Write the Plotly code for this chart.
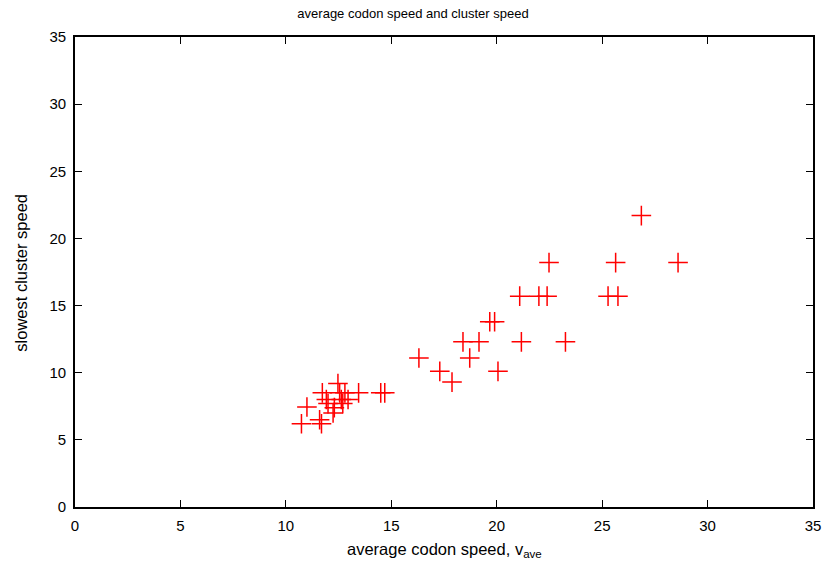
import plotly.graph_objects as go

# average codon speed (x) and slowest cluster speed (y)
v_ave = [10.74, 11.0, 11.6, 11.69, 11.73, 11.92, 12.0, 12.24, 12.3, 12.47, 12.55, 12.63, 12.7, 12.8, 12.95, 13.45,
         14.5, 14.69, 16.31, 17.3, 17.88, 18.4, 18.72, 19.16, 19.67, 19.9, 20.06, 21.09, 21.17, 22.0, 22.39, 22.48,
         23.26, 25.28, 25.64, 25.75, 26.86, 28.6]
slowest = [6.2, 7.45, 6.5, 6.2, 8.5, 8.0, 7.7, 7.0, 7.4, 9.2, 8.5, 8.0, 7.7, 8.5, 8.0, 8.5,
           8.5, 8.5, 11.1, 10.1, 9.3, 12.3, 11.1, 12.3, 13.8, 13.8, 10.1, 15.7, 12.3, 15.7, 15.7, 18.2,
           12.3, 15.7, 18.2, 15.7, 21.7, 18.2]

x_ticks = [0, 5, 10, 15, 20, 25, 30, 35]
y_ticks = [0, 5, 10, 15, 20, 25, 30, 35]

FAM = "Liberation Sans, Arial, sans-serif"
tick_font = dict(family=FAM, size=15, color="black")

L, R, T, B = 75, 13, 37, 58
W, H = 826, 565
pw = W - L - R

fig = go.Figure()
fig.add_trace(go.Scatter(
    x=v_ave, y=slowest, mode="markers",
    marker=dict(symbol="cross-thin-open", size=14, line=dict(color="red", width=1.5), color="red"),
    showlegend=False,
))

axis_common = dict(
    showgrid=False, zeroline=False, showline=True, linecolor="black", linewidth=1.8,
    mirror="allticks", ticks="inside", ticklen=7, tickwidth=1, tickcolor="black",
    tickfont=tick_font, ticklabelstandoff=4,
)
fig.update_xaxes(range=[0, 35], tickvals=x_ticks, ticktext=[str(t) for t in x_ticks], **axis_common)
fig.update_yaxes(range=[0, 35], tickvals=y_ticks, ticktext=[str(t) for t in y_ticks], **axis_common)

fig.update_layout(
    width=W, height=H,
    margin=dict(l=L, r=R, t=T, b=B, autoexpand=False),
    paper_bgcolor="white", plot_bgcolor="white",
    font=dict(family=FAM, size=13, color="black"),
    title=dict(text="average codon speed and cluster speed", x=0.5, xanchor="center",
               y=1 - 13 / H, yanchor="middle", font=dict(family=FAM, size=13, color="black")),
    annotations=[
        dict(text="average codon speed, v<sub>ave</sub>", xref="paper", yref="paper",
             x=0.5, y=-(550 - (H - B)) / (H - T - B), xanchor="center", yanchor="middle",
             showarrow=False, font=dict(family=FAM, size=16.5, color="black")),
        dict(text="slowest cluster speed", xref="paper", yref="paper", textangle=-90,
             x=-(L - 20.7) / pw, y=(H - B - 273) / (H - T - B), xanchor="center", yanchor="middle",
             showarrow=False, font=dict(family=FAM, size=16.5, color="black")),
    ],
)

fig.write_html("out.html")
